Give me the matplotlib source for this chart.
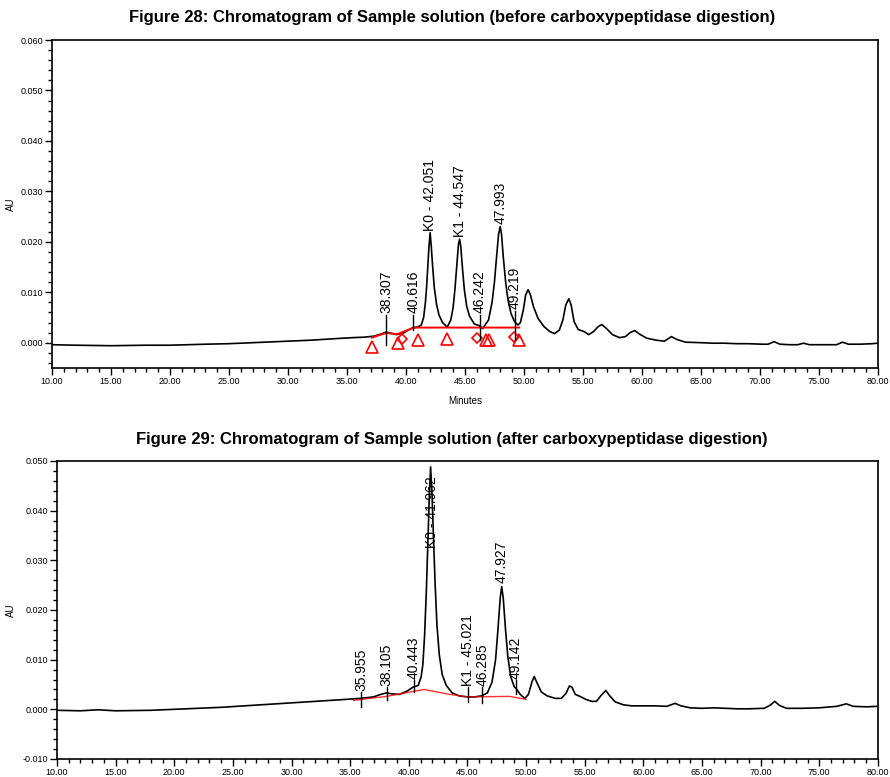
import matplotlib
matplotlib.use("Agg")
import matplotlib.pyplot as plt
from matplotlib.ticker import MultipleLocator, FormatStrFormatter

plt.rcParams['font.family'] = ['Liberation Sans', 'DejaVu Sans']

## Figure 28 - before digestion
t_before = [10, 12, 15, 18, 20, 23, 25, 28, 30, 32, 34, 35.5, 36.5, 37.3, 38.0, 38.3, 38.7,
            39.2, 39.7, 40.2, 40.6, 41.0, 41.3, 41.5, 41.65, 41.75, 41.85, 41.95, 42.05, 42.15,
            42.25, 42.4, 42.6, 42.8, 43.1, 43.5, 43.8, 44.0, 44.15, 44.3, 44.45, 44.55, 44.65,
            44.8, 44.95, 45.15, 45.4, 45.8, 46.2, 46.5, 47.0, 47.3, 47.5, 47.7, 47.85, 47.99,
            48.1, 48.25, 48.45, 48.65, 48.9, 49.2, 49.5, 49.7, 49.95, 50.15, 50.35, 50.55, 50.8,
            51.2, 51.7, 52.2, 52.6, 53.0, 53.3, 53.55, 53.8, 54.0, 54.25, 54.6, 55.1, 55.5, 55.9,
            56.3, 56.6, 57.0, 57.5, 58.1, 58.6, 59.0, 59.4, 59.8, 60.4, 61.2, 61.9, 62.5, 63.0,
            63.7, 65, 66, 67, 68, 69, 70.2, 70.7, 71.2, 71.7, 72.5, 73.2, 73.7, 74.2, 75, 76.5,
            77.0, 77.5, 78.5, 79.5, 80]
au_before = [-0.0004, -0.0005, -0.0006, -0.0005, -0.0005, -0.0003, -0.0002, 0.0001, 0.0003,
             0.0005, 0.0008, 0.0010, 0.0011, 0.0013, 0.0018, 0.0021, 0.0019, 0.0016, 0.0018,
             0.0025, 0.0030, 0.0031, 0.0035, 0.0050, 0.0080, 0.0110, 0.0150, 0.0190, 0.0218,
             0.0190, 0.0155, 0.0110, 0.0075, 0.0055, 0.0040, 0.0031, 0.0045, 0.0070, 0.0105,
             0.0150, 0.0195, 0.0205, 0.0190, 0.0145, 0.0105, 0.0072, 0.0052, 0.0037, 0.0034,
             0.0028, 0.0045, 0.0080, 0.0120, 0.0175, 0.0215, 0.0230, 0.0215, 0.0170, 0.0120,
             0.0085, 0.0058, 0.0042, 0.0035, 0.0040, 0.0065, 0.0095, 0.0105, 0.0095, 0.0072,
             0.0048, 0.0032, 0.0022, 0.0018, 0.0025, 0.0045, 0.0075, 0.0087, 0.0075, 0.0042,
             0.0026, 0.0022, 0.0016, 0.0022, 0.0032, 0.0036, 0.0028, 0.0016, 0.0010, 0.0012,
             0.0020, 0.0024, 0.0017, 0.0009, 0.0005, 0.0003, 0.0012, 0.0006, 0.0001, 0.0000,
             -0.0001, -0.0001, -0.0002, -0.0002, -0.0003, -0.0003, 0.0002, -0.0003, -0.0004,
             -0.0004, -0.0001, -0.0004, -0.0004, -0.0004, 0.0001, -0.0003, -0.0003, -0.0002,
             -0.0001]

base_t_before = [37.1, 38.3, 39.3, 39.8, 40.6, 41.0, 49.6]
base_au_before = [0.0010, 0.0019, 0.0017, 0.0022, 0.0029, 0.0030, 0.0030]
tri_t_before = [37.1, 39.3, 41.0, 43.5, 46.8, 47.0, 49.6]
tri_au_before = [-0.0008, 0.0000, 0.0006, 0.0008, 0.0006, 0.0006, 0.0006]
dia_t_before = [39.7, 46.0, 49.2]
dia_au_before = [0.0008, 0.0009, 0.0012]

labels_before = ["38.307", "40.616", "K0 - 42.051", "K1 - 44.547", "46.242", "47.993", "49.219"]
lab_t_before = [38.307, 40.616, 42.051, 44.547, 46.242, 47.993, 49.219]
lab_y_before = [0.0058, 0.0058, 0.0222, 0.0210, 0.0058, 0.0235, 0.0066]
tick_lo_before = [-0.0004, 0.0026, None, None, 0.0006, None, 0.0006]

## Figure 29 - after digestion
t_after = [10, 12, 13.5, 15, 18, 20, 22, 24, 26, 28, 30, 32, 34, 35.9, 37.0, 37.6, 38.1, 38.6,
           39.2, 39.8, 40.4, 40.8, 41.05, 41.2, 41.35, 41.5, 41.62, 41.75, 41.86, 41.97, 42.1,
           42.25, 42.4, 42.6, 42.85, 43.2, 43.7, 44.3, 45.0, 45.6, 46.2, 46.7, 47.1, 47.4, 47.6,
           47.8, 47.92, 48.05, 48.25, 48.45, 48.7, 49.0, 49.15, 49.5, 49.9, 50.2, 50.5, 50.7,
           50.9, 51.3, 51.8, 52.5, 53.0, 53.4, 53.7, 53.9, 54.2, 54.6, 55.1, 55.6, 56.0, 56.4,
           56.8, 57.1, 57.6, 58.3, 59.0, 60.0, 61.0, 62.0, 62.7, 63.2, 64.0, 65.0, 66.0, 67.0,
           68.0, 69.0, 70.3, 70.8, 71.2, 71.6, 72.2, 73.5, 75.0, 76.5, 77.3, 77.9, 79.0, 80.0]
au_after = [-0.0002, -0.0003, -0.0001, -0.0003, -0.0002, 0.0000, 0.0002, 0.0004, 0.0007,
            0.0010, 0.0013, 0.0016, 0.0019, 0.0022, 0.0025, 0.0030, 0.0033, 0.0031, 0.0030,
            0.0036, 0.0045, 0.0048, 0.0065, 0.0090, 0.0150, 0.0240, 0.0330, 0.0430, 0.0488,
            0.0440, 0.0350, 0.0250, 0.0170, 0.0110, 0.0070, 0.0048, 0.0033, 0.0027, 0.0025,
            0.0025, 0.0027, 0.0033, 0.0055, 0.0100, 0.0160, 0.0225, 0.0247, 0.0225, 0.0160,
            0.0105, 0.0065, 0.0045, 0.0042, 0.0030, 0.0022, 0.0030, 0.0055, 0.0066, 0.0055,
            0.0035, 0.0027, 0.0022, 0.0022, 0.0032, 0.0047, 0.0045, 0.0030, 0.0026, 0.0020,
            0.0016, 0.0016, 0.0028, 0.0038, 0.0028, 0.0015, 0.0009, 0.0007, 0.0007, 0.0007,
            0.0006, 0.0012, 0.0007, 0.0003, 0.0002, 0.0003, 0.0002, 0.0001, 0.0001, 0.0002,
            0.0008, 0.0016, 0.0008, 0.0002, 0.0002, 0.0003, 0.0006, 0.0011, 0.0006, 0.0005,
            0.0006]

base_t_after = [35.3, 38.1, 41.3, 43.5, 45.0, 48.6, 50.0]
base_au_after = [0.0018, 0.0026, 0.0040, 0.0030, 0.0025, 0.0026, 0.0020]

labels_after = ["35.955", "38.105", "40.443", "K0 - 41.962", "K1 - 45.021", "46.285", "47.927", "49.142"]
lab_t_after = [35.955, 38.105, 40.443, 41.962, 45.021, 46.285, 47.927, 49.142]
lab_y_after = [0.0037, 0.0047, 0.0062, 0.0325, 0.0047, 0.0047, 0.0254, 0.0062]
tick_lo_after = [0.0005, 0.0018, 0.0035, None, 0.0015, 0.0012, None, 0.0030]


def style_axes(ax, ymin, ymax, label_x):
    ax.set_xlim(10, 80)
    ax.set_ylim(ymin, ymax)
    ax.xaxis.set_major_locator(MultipleLocator(5))
    ax.xaxis.set_minor_locator(MultipleLocator(1))
    ax.yaxis.set_major_locator(MultipleLocator(0.01))
    ax.yaxis.set_minor_locator(MultipleLocator(0.002))
    ax.xaxis.set_major_formatter(FormatStrFormatter("%.2f"))
    ax.yaxis.set_major_formatter(FormatStrFormatter("%.3f"))
    ax.tick_params(which="major", direction="out", length=5, width=1, labelsize=6.5, pad=1.5)
    ax.tick_params(which="minor", direction="out", length=3, width=1)
    for s in ax.spines.values():
        s.set_linewidth(1.2)
    ax.set_ylabel("AU", fontsize=7)
    ax.yaxis.set_label_coords(label_x, 0.5)


def draw_labels(ax, ts, ys, names, lows):
    for t, y, txt, lo in zip(ts, ys, names, lows):
        if lo is not None:
            ax.plot([t, t], [lo, y - 0.0003], color="black", lw=1)
        ax.text(t, y, txt, rotation=90, ha="center", va="bottom", fontsize=10)


fig = plt.figure(figsize=(8.9, 7.77), dpi=100)

ax1 = fig.add_axes([0.0584, 0.5265, 0.9280, 0.4220])
ax1.plot(t_before, au_before, color="black", lw=1.2)
ax1.plot(base_t_before, base_au_before, color="red", lw=1.4)
ax1.plot(tri_t_before, tri_au_before, ls="none", marker="^", ms=8, mfc="none", mec="red", mew=1.2)
ax1.plot(dia_t_before, dia_au_before, ls="none", marker="D", ms=5, mfc="none", mec="red", mew=1.2)
draw_labels(ax1, lab_t_before, lab_y_before, labels_before, tick_lo_before)
style_axes(ax1, -0.005, 0.060, -0.043)
ax1.set_xlabel("Minutes", fontsize=7, labelpad=7)

ax2 = fig.add_axes([0.0640, 0.0232, 0.9224, 0.3835])
ax2.plot(t_after, au_after, color="black", lw=1.2)
ax2.plot(base_t_after, base_au_after, color="red", lw=1.0, alpha=0.8)
draw_labels(ax2, lab_t_after, lab_y_after, labels_after, tick_lo_after)
style_axes(ax2, -0.010, 0.050, -0.050)

fig.text(0.508, 0.978, "Figure 28: Chromatogram of Sample solution (before carboxypeptidase digestion)",
         ha="center", va="center", fontsize=12, fontweight="bold")
fig.text(0.508, 0.434, "Figure 29: Chromatogram of Sample solution (after carboxypeptidase digestion)",
         ha="center", va="center", fontsize=12, fontweight="bold")

fig.savefig("out.png", dpi=100)
